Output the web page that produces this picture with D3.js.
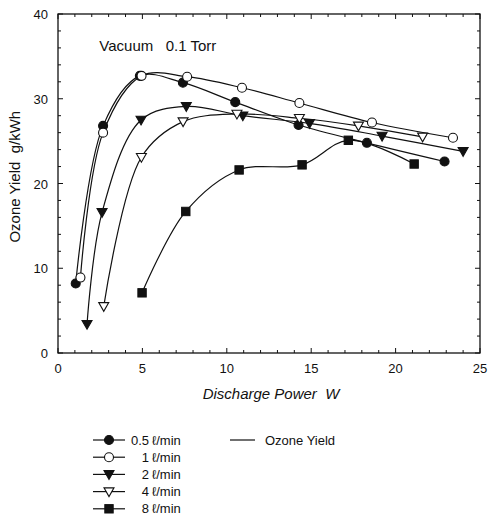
<!DOCTYPE html>
<html>
<head>
<meta charset="utf-8">
<script src="https://cdn.jsdelivr.net/npm/d3@7"></script>
<style>
  body { margin: 0; background: #fff; }
  text { font-family: "Liberation Sans", Arial, sans-serif; fill: #111; white-space: pre; }
</style>
</head>
<body>
<div id="chart"></div>
<script>
// flow rates (l/min) and measured points [power W, yield g/kWh]
var flows = ["0.5", "1", "2", "4", "8"];
var markers = ["circleFilled", "circleOpen", "triFilled", "triOpen", "squareFilled"];

var flow05 = [[1.05, 8.2], [2.67, 26.8], [4.85, 32.7], [7.4, 31.9], [10.5, 29.6], [14.25, 26.9], [18.3, 24.8], [22.9, 22.6]];
var flow1 = [[1.33, 8.9], [2.67, 26.0], [4.95, 32.7], [7.65, 32.6], [10.9, 31.3], [14.3, 29.5], [18.6, 27.2], [23.4, 25.4]];
var flow2 = [[1.72, 3.4], [2.61, 16.6], [4.92, 27.5], [7.6, 29.1], [10.95, 28.0], [14.9, 27.1], [19.2, 25.6], [24.0, 23.8]];
var flow4 = [[2.71, 5.5], [4.94, 23.1], [7.41, 27.3], [10.6, 28.2], [14.3, 27.7], [17.8, 26.8], [21.6, 25.5]];
var flow8 = [[4.98, 7.1], [7.57, 16.7], [10.73, 21.6], [14.46, 22.2], [17.2, 25.1], [21.1, 22.3]];

var xTicks = [0, 5, 10, 15, 20, 25];
var yTicks = [0, 10, 20, 30, 40];

var series = [flow05, flow1, flow2, flow4, flow8];

var W = 489, H = 517;
var margin = {left: 58, top: 14, right: 9, bottom: 164};

var svg = d3.select("#chart").append("svg")
  .attr("width", W).attr("height", H);

var x = d3.scaleLinear().domain([0, 25]).range([margin.left, W - margin.right]);
var y = d3.scaleLinear().domain([0, 40]).range([H - margin.bottom, margin.top]);

// frame
svg.append("rect")
  .attr("x", x(0)).attr("y", y(40))
  .attr("width", x(25) - x(0)).attr("height", y(0) - y(40))
  .attr("fill", "none").attr("stroke", "#111").attr("stroke-width", 1.3);

// inward ticks on all four sides
var xMinor = d3.range(0, 26, 1);
var yMinor = d3.range(0, 41, 2);
var tk = svg.append("g").attr("stroke", "#111").attr("stroke-width", 1);
xMinor.forEach(function(v) {
  var len = v % 5 === 0 ? 5 : 3;
  tk.append("line").attr("x1", x(v)).attr("x2", x(v)).attr("y1", y(0)).attr("y2", y(0) - len);
  tk.append("line").attr("x1", x(v)).attr("x2", x(v)).attr("y1", y(40)).attr("y2", y(40) + len);
});
yMinor.forEach(function(v) {
  var len = v % 10 === 0 ? 5 : 3;
  tk.append("line").attr("x1", x(0)).attr("x2", x(0) + len).attr("y1", y(v)).attr("y2", y(v));
  tk.append("line").attr("x1", x(25)).attr("x2", x(25) - len).attr("y1", y(v)).attr("y2", y(v));
});

// tick labels
svg.selectAll(".xl").data(xTicks).enter().append("text")
  .attr("x", function(d) { return x(d); })
  .attr("y", y(0) + 20)
  .attr("text-anchor", "middle")
  .style("font-size", "13px")
  .text(function(d) { return d; });

svg.selectAll(".yl").data(yTicks).enter().append("text")
  .attr("x", x(0) - 10)
  .attr("y", function(d) { return y(d) + 5; })
  .attr("text-anchor", "end")
  .style("font-size", "13px")
  .text(function(d) { return d; });

// axis titles
svg.append("text")
  .attr("x", (x(0) + x(25)) / 2 + 2)
  .attr("y", y(0) + 46)
  .attr("text-anchor", "middle")
  .style("font-size", "15px").style("font-style", "italic")
  .text("Discharge Power  W");

svg.append("text")
  .attr("transform", "translate(20," + y(20.8) + ") rotate(-90)")
  .attr("text-anchor", "middle")
  .style("font-size", "15px")
  .text("Ozone Yield  g/kWh");

svg.append("text")
  .attr("x", x(2.45)).attr("y", y(35.6))
  .style("font-size", "15px")
  .text("Vacuum   0.1 Torr");

// curves
var line = d3.line()
  .x(function(d) { return x(d[0]); })
  .y(function(d) { return y(d[1]); })
  .curve(d3.curveCatmullRom.alpha(0.5));

svg.append("g").selectAll("path").data(series).enter().append("path")
  .attr("d", line)
  .attr("fill", "none").attr("stroke", "#111").attr("stroke-width", 1.2);

function drawMarker(g, type, cx, cy) {
  var filled = type.indexOf("Filled") >= 0;
  var fill = filled ? "#111" : "#fff";
  if (type.indexOf("circle") === 0) {
    g.append("circle").attr("cx", cx).attr("cy", cy).attr("r", 4.5)
      .attr("fill", fill).attr("stroke", "#111").attr("stroke-width", 1.1);
  } else if (type.indexOf("tri") === 0) {
    var s = 5;
    g.append("path")
      .attr("d", "M" + (cx - s) + "," + (cy - s * 0.75) + "L" + (cx + s) + "," + (cy - s * 0.75) + "L" + cx + "," + (cy + s) + "Z")
      .attr("fill", fill).attr("stroke", "#111").attr("stroke-width", 1.1);
  } else {
    g.append("rect").attr("x", cx - 4.2).attr("y", cy - 4.2).attr("width", 8.4).attr("height", 8.4)
      .attr("fill", fill).attr("stroke", "#111").attr("stroke-width", 1);
  }
}

var mk = svg.append("g");
series.forEach(function(s, i) {
  s.forEach(function(d) { drawMarker(mk, markers[i], x(d[0]), y(d[1])); });
});

// legend
var lg = svg.append("g");
flows.forEach(function(f, i) {
  var ly = 440 + i * 17.2;
  lg.append("line").attr("x1", 93).attr("x2", 125).attr("y1", ly).attr("y2", ly)
    .attr("stroke", "#111").attr("stroke-width", 1.2);
  drawMarker(lg, markers[i], 109, ly);
  lg.append("text").attr("x", 149).attr("y", ly + 4.5).attr("text-anchor", "end")
    .style("font-size", "13px").text(f);
  lg.append("text").attr("x", 152).attr("y", ly + 4.5)
    .style("font-size", "13px").text("ℓ/min");
});
lg.append("line").attr("x1", 230).attr("x2", 255).attr("y1", 440).attr("y2", 440)
  .attr("stroke", "#111").attr("stroke-width", 1.2);
lg.append("text").attr("x", 265).attr("y", 444.5)
  .style("font-size", "13px").text("Ozone Yield");
</script>
</body>
</html>
